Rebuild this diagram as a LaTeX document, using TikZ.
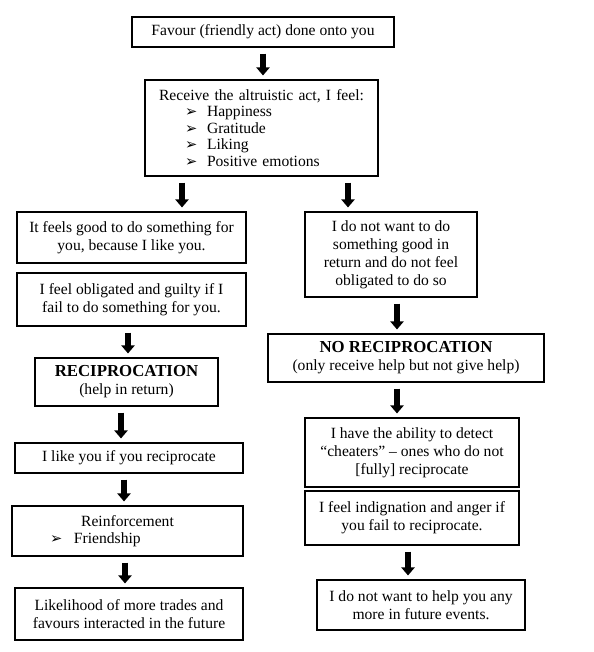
\documentclass[tikz,border=0pt]{standalone}
\usepackage{fontspec}
\setmainfont{Liberation Serif}
\newfontfamily\dingfont{DejaVu Sans}
\usetikzlibrary{arrows.meta, positioning, calc}
\newcommand{\bul}{{\dingfont\fontsize{11}{10}\selectfont ➢}}

\begin{document}
\begin{tikzpicture}[
    x=0.75pt, y=-0.75pt,
    font=\fontsize{11.7}{13.5}\selectfont,
    box/.style={draw=black, line width=0.8pt, align=center, inner sep=0pt},
    lbox/.style={box, align=left, inner xsep=0pt},
    head/.style={font=\fontsize{12.6}{14.5}\selectfont\bfseries},
    fl/.style={-{Triangle[width=9.75pt, length=6pt]}, line width=4.5pt, black,
               shorten <=4.5pt, shorten >=3pt}
  ]
    \useasboundingbox (0,0) rectangle (593,652);
    % ---- top ----
    \node[box, minimum width=196.5pt, minimum height=22.5pt] (fav) at (263,32)
      {Favour (friendly act) done onto you};
    \node[lbox, text width=174.75pt, minimum height=72pt,
          font=\fontsize{11.7}{12.4}\selectfont] (recv) at (261.5,128)
      {\makebox[174.75pt][c]{Receive the altruistic act, I feel:}\\
       \hspace*{30pt}\makebox[16.5pt][l]{\bul}Happiness\\
       \hspace*{30pt}\makebox[16.5pt][l]{\bul}Gratitude\\
       \hspace*{30pt}\makebox[16.5pt][l]{\bul}Liking\\
       \hspace*{30pt}\makebox[16.5pt][l]{\bul}Positive emotions};
    % ---- left column ----
    \node[box, minimum width=171.75pt, minimum height=38.25pt] (l1) at (131.5,237.5)
      {It feels good to do something for\\you, because I like you.};
    \node[box, minimum width=171.75pt, minimum height=39.75pt] (l2) at (131.5,299.5)
      {I feel obligated and guilty if I\\fail to do something for you.};
    \node[box, minimum width=137.25pt, minimum height=36pt] (l3) at (126.5,382)
      {{\fontsize{12.6}{14.5}\selectfont\bfseries RECIPROCATION}\\(help in return)};
    \node[box, minimum width=171pt, minimum height=22.5pt] (l4) at (129,458)
      {I like you if you reciprocate};
    \node[lbox, text width=173.25pt, minimum height=37.5pt,
          font=\fontsize{11.7}{12.8}\selectfont] (l5) at (127.5,531)
      {\makebox[173.25pt][c]{Reinforcement}\\
       \hspace*{28.5pt}\makebox[18pt][l]{\bul}Friendship};
    \node[box, minimum width=171pt, minimum height=39pt] (l6) at (129,614)
      {Likelihood of more trades and\\favours interacted in the future};
    % ---- right column ----
    \node[box, minimum width=129pt, minimum height=63.75pt] (r1) at (391,254.5)
      {I do not want to do\\something good in\\return and do not feel\\obligated to do so};
    \node[box, minimum width=207pt, minimum height=36pt] (r2) at (406,358)
      {{\fontsize{12.6}{14.5}\selectfont\bfseries NO RECIPROCATION}\\(only receive help but not give help)};
    \node[box, minimum width=160.5pt, minimum height=51.75pt] (r3) at (412,452.5)
      {I have the ability to detect\\“cheaters” – ones who do not\\{[fully]} reciprocate};
    \node[box, minimum width=160.5pt, minimum height=40.5pt] (r4) at (412,518)
      {I feel indignation and anger if\\you fail to reciprocate.};
    \node[box, minimum width=156pt, minimum height=37.5pt] (r5) at (421,605)
      {I do not want to help you any\\more in future events.};
    % ---- arrows ----
    \draw[fl] (fav.south) -- (fav.south |- recv.north);
    \draw[fl] ($(recv.south)+(-79.5,0)$) -- ($(l1.north)+(50.5,0)$);
    \draw[fl] ($(recv.south)+(86.5,0)$) -- ($(r1.north)+(-43,0)$);
    \draw[fl] ($(l2.south)+(-3.5,0)$) -- ($(l3.north)+(1.5,0)$);
    \draw[fl] ($(l3.south)+(-5.5,0)$) -- ($(l4.north)+(-8,0)$);
    \draw[fl] ($(l4.south)+(-5,0)$) -- ($(l5.north)+(-3.5,0)$);
    \draw[fl] ($(l5.south)+(-2.5,0)$) -- ($(l6.north)+(-4,0)$);
    \draw[fl] ($(r1.south)+(6,0)$) -- ($(r2.north)+(-9,0)$);
    \draw[fl] ($(r2.south)+(-9,0)$) -- ($(r3.north)+(-15,0)$);
    \draw[fl] ($(r4.south)+(-4,0)$) -- ($(r5.north)+(-13,0)$);
  \end{tikzpicture}
\end{document}
